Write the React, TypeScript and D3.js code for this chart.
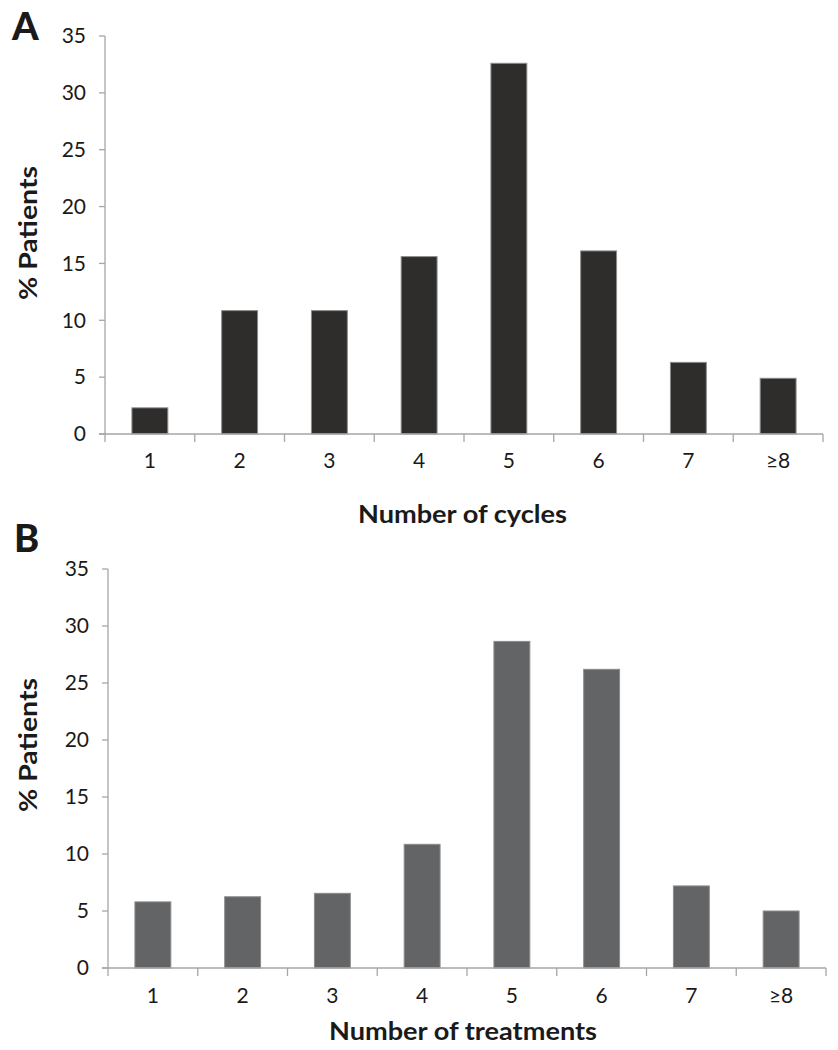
import React from "react";
import * as d3 from "d3";

const categories = ["1", "2", "3", "4", "5", "6", "7", "≥8"];
const cyclesPct = [2.3, 10.85, 10.85, 15.6, 32.6, 16.1, 6.3, 4.9];
const treatmentsPct = [5.8, 6.25, 6.55, 10.85, 28.65, 26.2, 7.2, 5.0];
const yTicks = [0, 5, 10, 15, 20, 25, 30, 35];

const FONT = "Lato, 'Open Sans', sans-serif";
const AXIS = "#a6a6a6";

type PanelProps = {
  letter: string;
  letterX: number;
  letterY: number;
  values: number[];
  fill: string;
  x0: number;
  x1: number;
  yTop: number;
  yBottom: number;
  xTitle: string;
  xTitleX: number;
  xTitleY: number;
  xTitleLen: number;
  yTitleY: number;
  tickLabelY: number;
};

function Panel(p: PanelProps) {
  const x = d3
    .scaleBand<string>()
    .domain(categories)
    .range([p.x0, p.x1])
    .paddingInner(0.6)
    .paddingOuter(0.3);
  const y = d3.scaleLinear().domain([0, 35]).range([p.yBottom, p.yTop]);
  const step = x.step();
  const bounds = d3.range(categories.length + 1).map((i) => p.x0 + i * step);
  return (
    <g>
      <text
        x={p.letterX}
        y={p.letterY}
        fontFamily={FONT}
        fontWeight="900"
        fontSize={38}
        fill="#1a1a1a"
      >
        {p.letter}
      </text>
      {p.values.map((v, i) => (
        <rect
          key={i}
          x={x(categories[i])!}
          y={y(v)}
          width={x.bandwidth()}
          height={y(0) - y(v)}
          fill={p.fill}
          stroke="#8c8c8c"
          strokeWidth={1}
        />
      ))}
      <line x1={p.x0} x2={p.x0} y1={y(35)} y2={y(0)} stroke={AXIS} strokeWidth={1.3} />
      {yTicks.map((t) => (
        <g key={t}>
          <line x1={p.x0 - 6} x2={p.x0} y1={y(t)} y2={y(t)} stroke={AXIS} strokeWidth={1.3} />
          <text
            x={p.x0 - 19}
            y={y(t)}
            dy="0.35em"
            textAnchor="end"
            fontFamily={FONT}
            fontSize={21}
            fill="#1a1a1a"
          >
            {t}
          </text>
        </g>
      ))}
      <line x1={p.x0 - 6} x2={p.x1} y1={y(0)} y2={y(0)} stroke={AXIS} strokeWidth={1.3} />
      {bounds.map((b, i) => (
        <line key={i} x1={b} x2={b} y1={y(0)} y2={y(0) + 8} stroke={AXIS} strokeWidth={1.3} />
      ))}
      {categories.map((c) => (
        <text
          key={c}
          x={x(c)! + x.bandwidth() / 2}
          y={p.tickLabelY}
          textAnchor="middle"
          fontFamily={FONT}
          fontSize={21}
          fill="#1a1a1a"
        >
          {c}
        </text>
      ))}
      <text
        x={p.xTitleX}
        y={p.xTitleY}
        textAnchor="middle"
        fontFamily={FONT}
        fontWeight="bold"
        fontSize={25}
        fill="#1a1a1a"
        textLength={p.xTitleLen}
        lengthAdjust="spacingAndGlyphs"
      >
        {p.xTitle}
      </text>
      <text
        transform={`translate(37,${p.yTitleY}) rotate(-90)`}
        textAnchor="middle"
        fontFamily={FONT}
        fontWeight="bold"
        fontSize={25}
        fill="#1a1a1a"
        textLength={134}
        lengthAdjust="spacingAndGlyphs"
      >
        % Patients
      </text>
    </g>
  );
}

export default function App() {
  return (
    <svg
      width={838}
      height={1050}
      style={{ position: "absolute", left: 0, top: 0, background: "#fff" }}
    >
      <rect width={838} height={1050} fill="#fff" />
      <Panel
        letter="A"
        letterX={12}
        letterY={40}
        values={cyclesPct}
        fill="#2f2c2c"
        x0={105}
        x1={823}
        yTop={36}
        yBottom={434}
        xTitle="Number of cycles"
        xTitleX={462.5}
        xTitleY={523}
        xTitleLen={209}
        yTitleY={233}
        tickLabelY={468}
      />
      <Panel
        letter="B"
        letterX={14}
        letterY={552}
        values={treatmentsPct}
        fill="#636466"
        x0={108}
        x1={826}
        yTop={569}
        yBottom={968}
        xTitle="Number of treatments"
        xTitleX={463}
        xTitleY={1040}
        xTitleLen={268}
        yTitleY={745}
        tickLabelY={1003}
      />
    </svg>
  );
}
